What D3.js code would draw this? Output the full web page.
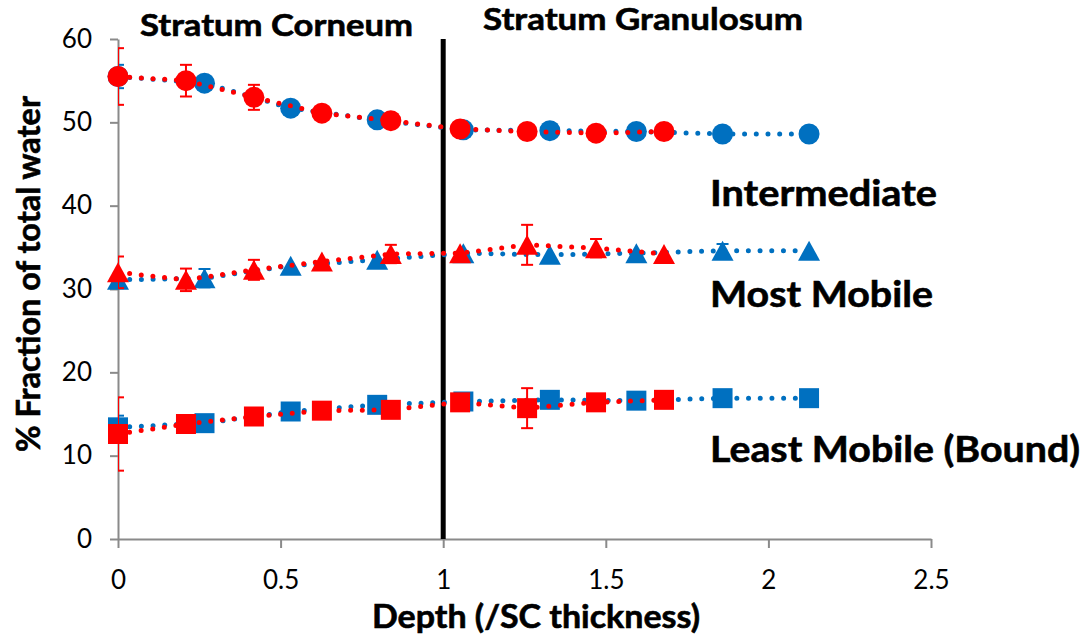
<!DOCTYPE html>
<html>
<head>
<meta charset="utf-8">
<script src="https://cdn.jsdelivr.net/npm/d3@7"></script>
<style>
  html, body { margin: 0; padding: 0; background: #fff; }
  svg { display: block; }
  text { font-family: Lato, "Open Sans", "DejaVu Sans", sans-serif; fill: #000; }
</style>
</head>
<body>
<svg id="chart" width="1088" height="638"></svg>
<script>
// Depth positions (fraction of SC thickness) for the two measurement sets
const depthBlue = [0, 0.266, 0.531, 0.797, 1.062, 1.328, 1.594, 1.859, 2.125];
const depthRed  = [0, 0.209, 0.418, 0.627, 0.839, 1.052, 1.258, 1.470, 1.679];

// % fraction of total water, blue set
const intermediateBlue = [55.5, 54.7, 51.7, 50.3, 49.1, 49.0, 48.9, 48.6, 48.6];
const mostMobileBlue   = [31.1, 31.3, 32.8, 33.5, 34.3, 34.1, 34.3, 34.6, 34.6];
const leastMobileBlue  = [13.4, 13.9, 15.3, 16.1, 16.5, 16.7, 16.6, 16.9, 16.9];

// % fraction of total water, red set
const intermediateRed = [55.5, 55.0, 53.0, 51.1, 50.2, 49.2, 48.9, 48.7, 48.9];
const mostMobileRed   = [32.0, 31.1, 32.3, 33.3, 34.2, 34.3, 35.3, 34.9, 34.2];
const leastMobileRed  = [12.6, 13.8, 14.7, 15.4, 15.5, 16.4, 15.7, 16.4, 16.7];

// Error bar half-widths (+/-)
const intermediateBlueErr = [1.4, 0, 0, 0, 0, 0, 0, 0, 0];
const mostMobileBlueErr   = [0, 1.1, 0, 0, 0, 0, 0, 0.8, 0];
const leastMobileBlueErr  = [1.4, 0, 0, 0, 0, 0, 0, 0, 0];
const intermediateRedErr  = [3.4, 1.9, 1.5, 0, 0, 0, 0, 0, 0];
const mostMobileRedErr    = [1.9, 1.35, 1.2, 0, 1.1, 0, 2.4, 1.1, 0];
const leastMobileRedErr   = [4.4, 0, 0, 0, 0, 0, 2.4, 0, 0];

// Axis ticks
const xTicks = [0, 0.5, 1, 1.5, 2, 2.5];
const yTicks = [0, 10, 20, 30, 40, 50, 60];

// Boundary between the two layers
const boundaryDepth = [1];

const svg = d3.select("#chart");
const x = d3.scaleLinear().domain([0, 2.5]).range([118, 931]);
const y = d3.scaleLinear().domain([0, 60]).range([539, 39]);

const BLUE = "#0070C0", RED = "#FF0000", AXIS = "#8a8a8a";

// clip region for error bars (plot area)
svg.append("defs").append("clipPath").attr("id", "plotClip")
  .append("rect")
  .attr("x", x(0)).attr("y", y(60))
  .attr("width", x(2.5) - x(0)).attr("height", y(0) - y(60));

// Axes
const yAxis = d3.axisLeft(y).tickValues(yTicks).tickSize(8).tickSizeOuter(0).tickPadding(18)
  .tickFormat(d3.format("d"));
const xAxis = d3.axisBottom(x).tickValues(xTicks).tickSize(9).tickSizeOuter(0).tickPadding(23)
  .tickFormat(d => d3.format("")(d));

const gy = svg.append("g").attr("transform", `translate(${x(0)},0)`).call(yAxis);
const gx = svg.append("g").attr("transform", `translate(0,${y(0)})`).call(xAxis);
[gx, gy].forEach(g => {
  g.select(".domain").attr("stroke", AXIS).attr("stroke-width", 2);
  g.selectAll(".tick line").attr("stroke", AXIS).attr("stroke-width", 2);
  g.selectAll(".tick text").attr("font-size", 26).attr("fill", "#000")
    .style("font-family", "Lato, 'Open Sans', sans-serif");
});

// Layer boundary
svg.selectAll(".boundary").data(boundaryDepth).enter().append("line")
  .attr("class", "boundary")
  .attr("x1", d => x(d)).attr("x2", d => x(d))
  .attr("y1", y(60)).attr("y2", y(0))
  .attr("stroke", "#000").attr("stroke-width", 5);

// Marker shapes
function markerPath(shape, cx, cy) {
  if (shape === "triangle") {
    const w = 22, h = 20;
    return `M${cx},${cy - h / 2}L${cx + w / 2},${cy + h / 2}L${cx - w / 2},${cy + h / 2}Z`;
  }
  if (shape === "square") {
    const s = 20;
    return `M${cx - s / 2},${cy - s / 2}h${s}v${s}h${-s}Z`;
  }
  const r = 10.5;
  return `M${cx - r},${cy}a${r},${r} 0 1,0 ${2 * r},0a${r},${r} 0 1,0 ${-2 * r},0Z`;
}

function drawSeries(depths, values, errs, color, shape) {
  const pts = depths.map((d, i) => ({ d, v: values[i], e: errs[i] }));
  const g = svg.append("g");

  g.append("path").datum(pts)
    .attr("fill", "none").attr("stroke", color)
    .attr("stroke-width", 5).attr("stroke-linecap", "round")
    .attr("stroke-dasharray", "0 11.7")
    .attr("d", d3.line().x(p => x(p.d)).y(p => y(p.v)));

  const eb = g.append("g").attr("clip-path", "url(#plotClip)")
    .selectAll("g").data(pts.filter(p => p.e > 0)).enter().append("g")
    .attr("stroke", color).attr("stroke-width", 2);
  eb.append("line")
    .attr("x1", p => x(p.d)).attr("x2", p => x(p.d))
    .attr("y1", p => y(p.v + p.e)).attr("y2", p => y(p.v - p.e));
  [1, -1].forEach(s => {
    eb.append("line")
      .attr("x1", p => x(p.d) - 6).attr("x2", p => x(p.d) + 6)
      .attr("y1", p => y(p.v + s * p.e)).attr("y2", p => y(p.v + s * p.e));
  });

  g.selectAll(".mk").data(pts).enter().append("path")
    .attr("class", "mk")
    .attr("fill", color)
    .attr("d", p => markerPath(shape, x(p.d), y(p.v)));
}

// blue set first, red set drawn on top
drawSeries(depthBlue, intermediateBlue, intermediateBlueErr, BLUE, "circle");
drawSeries(depthBlue, mostMobileBlue, mostMobileBlueErr, BLUE, "triangle");
drawSeries(depthBlue, leastMobileBlue, leastMobileBlueErr, BLUE, "square");
drawSeries(depthRed, intermediateRed, intermediateRedErr, RED, "circle");
drawSeries(depthRed, mostMobileRed, mostMobileRedErr, RED, "triangle");
drawSeries(depthRed, leastMobileRed, leastMobileRedErr, RED, "square");

// Bold annotations
function boldText(txt, x0, baseline, size, width, transform) {
  return svg.append("text")
    .attr("transform", transform || null)
    .attr("x", x0).attr("y", baseline)
    .attr("font-size", size).attr("font-weight", 700)
    .attr("stroke", "#000").attr("stroke-width", 0.6)
    .attr("textLength", width).attr("lengthAdjust", "spacingAndGlyphs")
    .text(txt);
}
boldText("Stratum Corneum", 140, 36, 31, 273);
boldText("Stratum Granulosum", 483, 30, 31, 320);
boldText("Intermediate", 710, 206, 37, 227);
boldText("Most Mobile", 710, 307, 37, 223);
boldText("Least Mobile (Bound)", 710, 462, 37, 370);

// Axis titles
boldText("Depth (/SC thickness)", 372, 628, 33, 328);
boldText("% Fraction of total water", 0, 0, 32, 356, "translate(40,452) rotate(-90)");
</script>
</body>
</html>
